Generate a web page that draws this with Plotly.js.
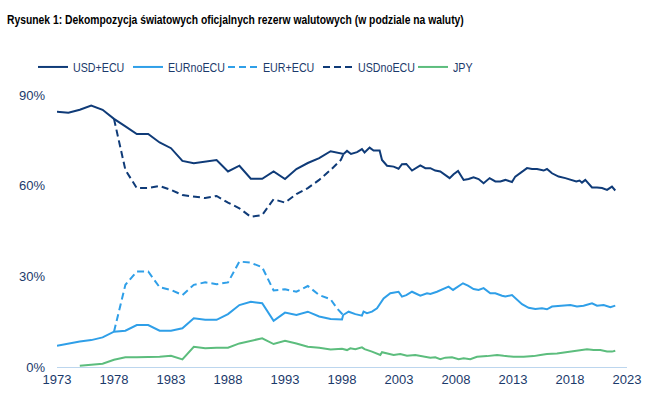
<!DOCTYPE html>
<html>
<head>
<meta charset="utf-8">
<script src="https://cdn.plot.ly/plotly-3.0.1.min.js"></script>
<style>html,body{margin:0;padding:0;background:#fff;}#chart{width:670px;height:404px;}</style>
</head>
<body>
<div id="chart"></div>
<script>
// Data (shares of world FX reserves, %)
const usdEcuYears = [1973,1974,1975,1976,1977,1978,1979,1980,1981,1982,1983,1984,1985,1986,1987,1988,1989,1990,1991,1992,1993,1994,1995,1996,1997,
  1998.14,1998.44,1998.79,1999.32,1999.75,1999.98,2000.42,2000.77,2001.30,2001.51,2001.95,2002.53,2002.96,2003.26,2003.64,2004.14,2004.87,2005.31,2005.75,2006.18,2006.62,2007.06,2007.44,2007.79,2008.18,2008.67,2009.11,2009.54,2009.98,2010.42,2010.95,2011.45,2011.89,2012.33,2012.91,2013.20,2013.64,2014.23,2014.67,2015.11,2015.69,2015.98,2016.42,2017.00,2017.59,2018.03,2018.55,2018.84,2019.05,2019.34,2019.93,2020.37,2020.81,2021.25,2021.68,2021.97];
const usdEcuVals = [84.5,84.1,85.1,86.5,85.1,82.1,79.6,77.1,77.1,74.3,72.4,68.2,67.4,68.0,68.5,64.7,66.6,62.3,62.3,64.7,62.2,65.5,67.5,69.1,71.4,
  70.5,71.5,70.5,71.1,72.1,71.0,72.6,71.6,71.6,68.5,66.6,66.3,65.6,67.1,67.2,65.0,66.7,65.8,65.8,65.0,64.7,63.6,62.5,63.8,64.9,61.9,62.2,62.8,62.2,60.8,62.5,61.4,61.4,61.9,61.2,63.0,64.3,65.8,65.5,65.5,65.0,65.5,64.1,63.0,62.5,61.9,61.4,61.7,61.0,61.9,59.4,59.4,59.2,58.6,59.7,58.4];

const eurNoEcuYears = [1973,1974,1975,1976,1977,1978,1979,1980,1981,1982,1983,1984,1985,1986,1987,1988,1989,1990,1991,1992,1993,1994,1995,1996,1997,1998,
  1998.10,1998.58,1999.17,1999.75,1999.89,2000.19,2000.63,2001.07,2001.65,2002.24,2002.68,2002.96,2003.26,2003.64,2004.14,2004.87,2005.46,2005.75,2006.33,2006.77,2007.35,2007.74,2008.09,2008.61,2009.05,2009.54,2009.98,2010.42,2011.01,2011.45,2012.04,2012.33,2012.91,2013.20,2013.79,2014.37,2014.96,2015.54,2015.98,2016.42,2017.44,2018.03,2018.61,2019.19,2019.93,2020.37,2020.95,2021.54,2021.97];
const eurNoEcuVals = [7.0,7.8,8.4,8.9,9.8,11.7,12.0,13.9,13.9,12.0,12.0,12.8,16.1,15.6,15.6,17.5,20.5,21.6,21.1,15.3,18.0,17.2,18.3,16.7,15.9,15.7,
  17.2,18.3,17.5,17.0,18.3,17.8,18.3,19.4,22.7,24.4,24.6,24.9,23.3,23.8,24.9,23.6,24.4,24.2,24.9,25.7,26.6,25.5,26.3,27.7,26.9,25.8,25.5,26.1,24.4,24.4,23.6,23.3,23.8,22.9,20.8,19.6,19.2,19.4,19.1,20.0,20.2,20.5,20.0,20.3,21.1,20.3,20.5,19.8,20.3];

const eurEcuYears = [1978,1979,1980,1981,1982,1983,1984,1985,1986,1987,1988,1989,1990,1991,1992,1993,1994,1995,1996,1997,1997.56,1997.95,1998.10];
const eurEcuVals = [11.7,27.2,31.6,31.6,26.4,25.5,23.8,27.2,28.0,27.4,28.0,34.9,34.5,33.0,25.3,25.7,24.9,26.8,23.8,22.4,19.4,17.8,17.2];

const usdNoEcuYears = [1978,1979,1980,1981,1982,1983,1984,1985,1986,1987,1988,1989,1990,1991,1992,1993,1994,1995,1996,1997,1997.9,1998.14];
const usdNoEcuVals = [82.1,65.2,59.2,59.2,59.9,58.6,56.9,56.4,55.9,56.6,54.4,52.5,49.7,50.3,55.5,54.4,57.2,59.2,61.9,65.2,68.5,70.5];

const jpyYears = [1975,1976,1977,1978,1979,1980,1981,1982,1983,1984,1985,1986,1987,1988,1989,1990,1991,1992,1993,1994,1995,1996,1997,1998,
  1998.44,1998.73,1999.17,1999.75,1999.98,2000.63,2001.07,2001.36,2001.51,2002.09,2002.53,2003.11,2003.70,2004.43,2005.02,2005.75,2006.18,2006.62,2007.06,2007.65,2008.23,2008.67,2009.25,2009.84,2010.72,2011.60,2012.18,2013.05,2013.93,2014.81,2015.40,2015.98,2016.86,2017.74,2018.61,2019.49,2020.07,2020.66,2021.25,2021.68,2021.97];
const jpyVals = [0.4,0.7,1.1,2.4,3.2,3.2,3.2,3.4,3.7,2.5,6.7,6.2,6.4,6.4,7.8,8.7,9.5,7.6,8.7,7.8,6.7,6.4,5.8,6.0,
  5.6,6.2,5.9,6.5,5.9,5.1,4.5,4.0,4.9,4.5,4.0,4.3,3.7,4.0,3.6,3.1,3.2,2.6,3.1,3.2,2.6,2.9,2.6,3.4,3.6,4.0,3.7,3.4,3.4,3.6,4.0,4.3,4.5,4.9,5.4,5.9,5.6,5.6,5.1,5.1,5.4];

const xTickVals = [1973,1978,1983,1988,1993,1998,2003,2008,2013,2018,2023];
const yTickVals = [0,30,60,90];
const yTickText = ['0%','30%','60%','90%'];

const NAVY = '#0f3b78', LIGHT = '#2f9fe8', GREEN = '#5cbd7d', TXT = '#1b3a6b';
const FONT = 'Liberation Sans, Arial, sans-serif';

const traces = [
  {x: usdEcuYears, y: usdEcuVals, name: 'USD+ECU', mode: 'lines', line: {color: NAVY, width: 2}},
  {x: eurNoEcuYears, y: eurNoEcuVals, name: 'EURnoECU', mode: 'lines', line: {color: LIGHT, width: 2}},
  {x: eurEcuYears, y: eurEcuVals, name: 'EUR+ECU', mode: 'lines', line: {color: LIGHT, width: 2, dash: '7px,4px'}},
  {x: usdNoEcuYears, y: usdNoEcuVals, name: 'USDnoECU', mode: 'lines', line: {color: NAVY, width: 2, dash: '7px,4px'}},
  {x: jpyYears, y: jpyVals, name: 'JPY', mode: 'lines', line: {color: GREEN, width: 2}}
];

const layout = {
  width: 670, height: 404,
  margin: {l: 57, r: 43, t: 95, b: 37},
  paper_bgcolor: '#fff', plot_bgcolor: '#fff',
  title: {text: '<b>Rysunek 1: Dekompozycja światowych oficjalnych rezerw walutowych (w podziale na waluty)</b>',
    font: {family: FONT, size: 13.5, color: '#000'}, x: 7/670, xanchor: 'left', xref: 'container',
    y: 1 - 19/404, yanchor: 'middle', yref: 'container'},
  showlegend: true,
  legend: {orientation: 'h', x: 33/670, xref: 'container', xanchor: 'left', y: 1 - 67/404, yref: 'container', yanchor: 'middle',
    font: {family: FONT, size: 13, color: TXT}, itemwidth: 30, entrywidth: 50, entrywidthmode: 'pixels',
    tracegroupgap: 0, bgcolor: 'rgba(0,0,0,0)'},
  xaxis: {range: [1973, 2023], tickvals: xTickVals, ticktext: xTickVals.map(String), showgrid: false, zeroline: false,
    showline: true, linecolor: '#bcd6ee', linewidth: 1, ticks: '', tickfont: {family: FONT, size: 13, color: TXT}, fixedrange: true},
  yaxis: {range: [0, 90], tickvals: yTickVals, ticktext: yTickText, showgrid: false, zeroline: false, showline: false,
    ticks: '', ticklabelstandoff: 11, tickfont: {family: FONT, size: 13, color: TXT}, fixedrange: true}
};

// The reference uses a narrow (Arial Narrow-like) face; condense the real text horizontally.
function condense(el, f) {
  const w = el.getComputedTextLength();
  if (w > 0) {
    el.setAttribute('textLength', (w * f).toFixed(1));
    el.setAttribute('lengthAdjust', 'spacingAndGlyphs');
  }
}

Plotly.newPlot('chart', traces, layout, {displayModeBar: false, staticPlot: true}).then(function (gd) {
  gd.querySelectorAll('.gtitle').forEach(function (el) { condense(el, 0.765); });
  gd.querySelectorAll('.legendtext').forEach(function (el) { condense(el, 0.82); });
});
</script>
</body>
</html>
